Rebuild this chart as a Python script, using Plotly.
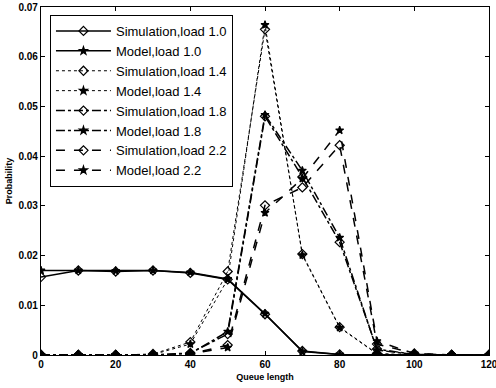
import plotly.graph_objects as go

# Queue length bins
queue_len = [0, 10, 20, 30, 40, 50, 60, 70, 80, 90, 100, 110, 120]

# Probability per bin, simulation vs. model, for each load level
sim_10 = [0.0157, 0.0170, 0.0168, 0.0170, 0.0165, 0.0152, 0.0082, 0.0008, 0.0001, 0, 0, 0, 0]
mod_10 = [0.0170, 0.0170, 0.0169, 0.0170, 0.0166, 0.0153, 0.0083, 0.0007, 0.0001, 0, 0, 0, 0]
sim_14 = [0, 0, 0, 0.0002, 0.0026, 0.0168, 0.0655, 0.0203, 0.0056, 0.0003, 0, 0, 0]
mod_14 = [0, 0, 0, 0.0001, 0.0022, 0.0152, 0.0664, 0.0201, 0.0055, 0.0002, 0, 0, 0]
sim_18 = [0, 0, 0, 0, 0.0004, 0.0042, 0.0480, 0.0358, 0.0227, 0.0012, 0.0001, 0, 0]
mod_18 = [0, 0, 0, 0, 0.0003, 0.0047, 0.0483, 0.0371, 0.0236, 0.0010, 0.0001, 0, 0]
sim_22 = [0, 0, 0, 0, 0.0002, 0.0020, 0.0301, 0.0337, 0.0422, 0.0022, 0.0003, 0, 0]
mod_22 = [0, 0, 0, 0, 0.0002, 0.0015, 0.0286, 0.0355, 0.0452, 0.0028, 0.0003, 0, 0]

# Axis tick labels
x_ticks = [0, 20, 40, 60, 80, 100, 120]
x_labels = ["0", "20", "40", "60", "80", "100", "120"]
y_ticks = [0, 0.01, 0.02, 0.03, 0.04, 0.05, 0.06, 0.07]
y_labels = ["0", "0.01", "0.02", "0.03", "0.04", "0.05", "0.06", "0.07"]

series = [
    ("Simulation,load 1.0", sim_10, "solid", 1.5, "diamond-open", 7),
    ("Model,load 1.0", mod_10, "solid", 1.5, "star", 6),
    ("Simulation,load 1.4", sim_14, "dot", 1, "diamond-open", 7),
    ("Model,load 1.4", mod_14, "dot", 1, "star", 6),
    ("Simulation,load 1.8", sim_18, "dashdot", 1.5, "diamond-open", 7),
    ("Model,load 1.8", mod_18, "dashdot", 1.5, "star", 6),
    ("Simulation,load 2.2", sim_22, "dash", 1.5, "diamond-open", 7),
    ("Model,load 2.2", mod_22, "dash", 1.5, "star", 6),
]

fig = go.Figure()
for name, vals, dash, width, symbol, size in series:
    fig.add_trace(go.Scatter(
        x=queue_len, y=vals, name=name, mode="lines+markers",
        line=dict(color="black", dash=dash, width=width),
        marker=dict(symbol=symbol, size=size, color="black",
                    line=dict(color="black", width=1.2)),
    ))

axis_common = dict(
    showgrid=False, zeroline=False, showline=True, linecolor="black",
    linewidth=1.2, mirror="ticks", ticks="inside", ticklen=4,
    tickcolor="black", ticklabeloverflow="allow", automargin=False,
    tickfont=dict(family="Liberation Sans", size=10, color="black", weight="bold"),
)

fig.update_xaxes(range=[0, 120], tickvals=x_ticks, ticktext=x_labels, **axis_common,
                 title=dict(text="Queue length", standoff=4,
                            font=dict(family="Liberation Sans", size=9, color="black", weight="bold")))
fig.update_yaxes(range=[0, 0.07], tickvals=y_ticks, ticktext=y_labels, **axis_common,
                 title=dict(text="Probability", standoff=4,
                            font=dict(family="Liberation Sans", size=9, color="black", weight="bold")))

fig.update_layout(
    width=496, height=388,
    margin=dict(l=41, r=7, t=7, b=33),
    paper_bgcolor="white", plot_bgcolor="white",
    font=dict(family="Liberation Sans", color="black"),
    legend=dict(x=0.02, y=0.977, xanchor="left", yanchor="top",
                bgcolor="white", bordercolor="black", borderwidth=1,
                font=dict(family="Liberation Sans", size=13, color="black"),
                itemwidth=55, tracegroupgap=0),
)

fig.write_html("out.html")
